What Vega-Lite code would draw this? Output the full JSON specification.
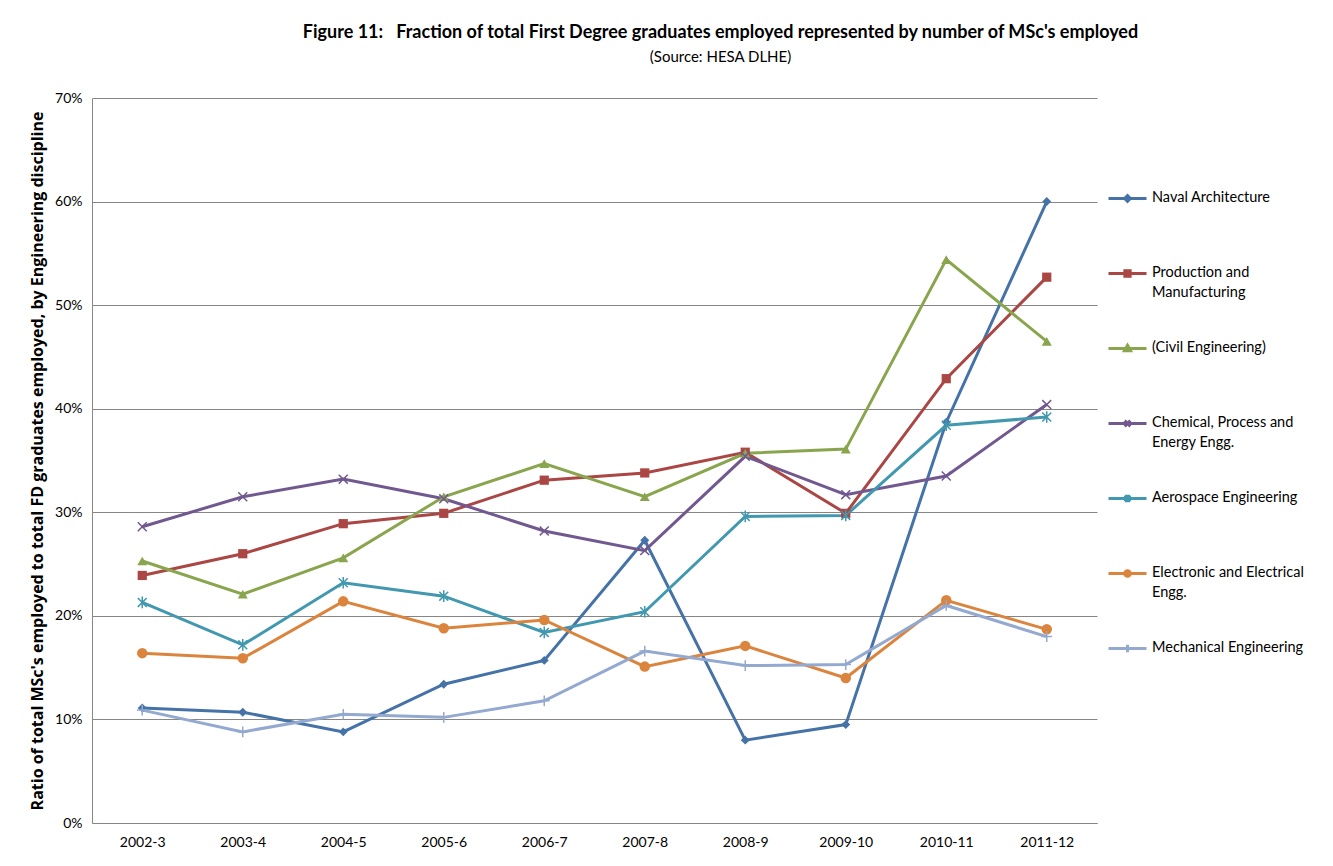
{
  "$schema": "https://vega.github.io/schema/vega-lite/v6.json",
  "width": 1005,
  "height": 725,
  "autosize": "none",
  "padding": {"left": 92, "top": 98, "right": 236, "bottom": 43},
  "background": "white",
  "config": {
    "view": {"stroke": null},
    "font": "Lato"
  },
  "title": {
    "text": "Figure 11:\u00a0\u00a0\u00a0Fraction of total First Degree graduates employed represented by number of MSc's employed",
    "subtitle": "(Source: HESA DLHE)",
    "anchor": "middle",
    "frame": "group",
    "dx": 126,
    "offset": 26,
    "font": "Lato",
    "fontSize": 18,
    "fontWeight": "bold",
    "color": "#000000",
    "subtitleFont": "Lato",
    "subtitleFontSize": 15,
    "subtitleColor": "#000000",
    "subtitlePadding": 8
  },
  "data": {
    "values": [
      {"year": "2002-3", "discipline": "Naval Architecture", "value": 0.111},
      {"year": "2003-4", "discipline": "Naval Architecture", "value": 0.107},
      {"year": "2004-5", "discipline": "Naval Architecture", "value": 0.088},
      {"year": "2005-6", "discipline": "Naval Architecture", "value": 0.134},
      {"year": "2006-7", "discipline": "Naval Architecture", "value": 0.157},
      {"year": "2007-8", "discipline": "Naval Architecture", "value": 0.273},
      {"year": "2008-9", "discipline": "Naval Architecture", "value": 0.080},
      {"year": "2009-10", "discipline": "Naval Architecture", "value": 0.095},
      {"year": "2010-11", "discipline": "Naval Architecture", "value": 0.387},
      {"year": "2011-12", "discipline": "Naval Architecture", "value": 0.600},
      {"year": "2002-3", "discipline": "Production and Manufacturing", "value": 0.239},
      {"year": "2003-4", "discipline": "Production and Manufacturing", "value": 0.260},
      {"year": "2004-5", "discipline": "Production and Manufacturing", "value": 0.289},
      {"year": "2005-6", "discipline": "Production and Manufacturing", "value": 0.299},
      {"year": "2006-7", "discipline": "Production and Manufacturing", "value": 0.331},
      {"year": "2007-8", "discipline": "Production and Manufacturing", "value": 0.338},
      {"year": "2008-9", "discipline": "Production and Manufacturing", "value": 0.358},
      {"year": "2009-10", "discipline": "Production and Manufacturing", "value": 0.299},
      {"year": "2010-11", "discipline": "Production and Manufacturing", "value": 0.429},
      {"year": "2011-12", "discipline": "Production and Manufacturing", "value": 0.527},
      {"year": "2002-3", "discipline": "(Civil Engineering)", "value": 0.253},
      {"year": "2003-4", "discipline": "(Civil Engineering)", "value": 0.221},
      {"year": "2004-5", "discipline": "(Civil Engineering)", "value": 0.256},
      {"year": "2005-6", "discipline": "(Civil Engineering)", "value": 0.315},
      {"year": "2006-7", "discipline": "(Civil Engineering)", "value": 0.347},
      {"year": "2007-8", "discipline": "(Civil Engineering)", "value": 0.315},
      {"year": "2008-9", "discipline": "(Civil Engineering)", "value": 0.357},
      {"year": "2009-10", "discipline": "(Civil Engineering)", "value": 0.361},
      {"year": "2010-11", "discipline": "(Civil Engineering)", "value": 0.544},
      {"year": "2011-12", "discipline": "(Civil Engineering)", "value": 0.465},
      {"year": "2002-3", "discipline": "Chemical, Process and Energy Engg.", "value": 0.286},
      {"year": "2003-4", "discipline": "Chemical, Process and Energy Engg.", "value": 0.315},
      {"year": "2004-5", "discipline": "Chemical, Process and Energy Engg.", "value": 0.332},
      {"year": "2005-6", "discipline": "Chemical, Process and Energy Engg.", "value": 0.313},
      {"year": "2006-7", "discipline": "Chemical, Process and Energy Engg.", "value": 0.282},
      {"year": "2007-8", "discipline": "Chemical, Process and Energy Engg.", "value": 0.263},
      {"year": "2008-9", "discipline": "Chemical, Process and Energy Engg.", "value": 0.354},
      {"year": "2009-10", "discipline": "Chemical, Process and Energy Engg.", "value": 0.317},
      {"year": "2010-11", "discipline": "Chemical, Process and Energy Engg.", "value": 0.335},
      {"year": "2011-12", "discipline": "Chemical, Process and Energy Engg.", "value": 0.404},
      {"year": "2002-3", "discipline": "Aerospace Engineering", "value": 0.213},
      {"year": "2003-4", "discipline": "Aerospace Engineering", "value": 0.172},
      {"year": "2004-5", "discipline": "Aerospace Engineering", "value": 0.232},
      {"year": "2005-6", "discipline": "Aerospace Engineering", "value": 0.219},
      {"year": "2006-7", "discipline": "Aerospace Engineering", "value": 0.184},
      {"year": "2007-8", "discipline": "Aerospace Engineering", "value": 0.204},
      {"year": "2008-9", "discipline": "Aerospace Engineering", "value": 0.296},
      {"year": "2009-10", "discipline": "Aerospace Engineering", "value": 0.297},
      {"year": "2010-11", "discipline": "Aerospace Engineering", "value": 0.384},
      {"year": "2011-12", "discipline": "Aerospace Engineering", "value": 0.392},
      {"year": "2002-3", "discipline": "Electronic and Electrical Engg.", "value": 0.164},
      {"year": "2003-4", "discipline": "Electronic and Electrical Engg.", "value": 0.159},
      {"year": "2004-5", "discipline": "Electronic and Electrical Engg.", "value": 0.214},
      {"year": "2005-6", "discipline": "Electronic and Electrical Engg.", "value": 0.188},
      {"year": "2006-7", "discipline": "Electronic and Electrical Engg.", "value": 0.196},
      {"year": "2007-8", "discipline": "Electronic and Electrical Engg.", "value": 0.151},
      {"year": "2008-9", "discipline": "Electronic and Electrical Engg.", "value": 0.171},
      {"year": "2009-10", "discipline": "Electronic and Electrical Engg.", "value": 0.140},
      {"year": "2010-11", "discipline": "Electronic and Electrical Engg.", "value": 0.215},
      {"year": "2011-12", "discipline": "Electronic and Electrical Engg.", "value": 0.187},
      {"year": "2002-3", "discipline": "Mechanical Engineering", "value": 0.109},
      {"year": "2003-4", "discipline": "Mechanical Engineering", "value": 0.088},
      {"year": "2004-5", "discipline": "Mechanical Engineering", "value": 0.105},
      {"year": "2005-6", "discipline": "Mechanical Engineering", "value": 0.102},
      {"year": "2006-7", "discipline": "Mechanical Engineering", "value": 0.118},
      {"year": "2007-8", "discipline": "Mechanical Engineering", "value": 0.166},
      {"year": "2008-9", "discipline": "Mechanical Engineering", "value": 0.152},
      {"year": "2009-10", "discipline": "Mechanical Engineering", "value": 0.153},
      {"year": "2010-11", "discipline": "Mechanical Engineering", "value": 0.210},
      {"year": "2011-12", "discipline": "Mechanical Engineering", "value": 0.180}
    ]
  },
  "encoding": {
    "x": {
      "field": "year",
      "type": "ordinal",
      "sort": null,
      "scale": {"type": "point", "padding": 0.5},
      "axis": {
        "title": null,
        "labelAngle": 0,
        "labelFont": "Lato",
        "labelFontSize": 14,
        "labelColor": "#000000",
        "labelPadding": 12,
        "ticks": false,
        "domainColor": "#868686",
        "grid": false
      }
    },
    "y": {
      "field": "value",
      "type": "quantitative",
      "scale": {"domain": [0, 0.7], "nice": false},
      "axis": {
        "title": "Ratio of total MSc's employed to total FD graduates employed, by Engineering discipline",
        "titleFont": "Open Sans",
        "titleFontSize": 16,
        "titleFontWeight": "bold",
        "titleColor": "#000000",
        "titlePadding": 9,
        "values": [0, 0.1, 0.2, 0.3, 0.4, 0.5, 0.6, 0.7],
        "format": ".0%",
        "labelFont": "Lato",
        "labelFontSize": 14,
        "labelColor": "#000000",
        "labelPadding": 10,
        "ticks": false,
        "domainColor": "#868686",
        "gridColor": "#868686",
        "gridWidth": 1
      }
    },
    "color": {
      "field": "discipline",
      "type": "nominal",
      "sort": null,
      "scale": {
        "domain": ["Naval Architecture", "Production and Manufacturing", "(Civil Engineering)", "Chemical, Process and Energy Engg.", "Aerospace Engineering", "Electronic and Electrical Engg.", "Mechanical Engineering"],
        "range": ["#4572A7", "#AA4643", "#89A54E", "#71588F", "#4198AF", "#DB843D", "#93A9CF"]
      },
      "legend": {
        "title": null,
        "orient": "none",
        "legendX": 1015,
        "legendY": 80,
        "symbolSize": 1444,
        "rowPadding": 29,
        "labelFont": "Lato",
        "labelFontSize": 14.5,
        "labelColor": "#000000",
        "labelOffset": 4,
        "labelLimit": 220,
        "labelBaseline": "top",
        "labelExpr": "datum.label == 'Production and Manufacturing' ? ['Production and', 'Manufacturing'] : datum.label == 'Chemical, Process and Energy Engg.' ? ['Chemical, Process and', 'Energy Engg.'] : datum.label == 'Electronic and Electrical Engg.' ? ['Electronic and Electrical', 'Engg.'] : [datum.label, '']",
        "encode": {
          "labels": {"update": {"dy": {"value": -8}, "lineHeight": {"value": 20}}},
          "symbols": {
            "update": {
              "shape": {"signal": "datum.value == 'Naval Architecture' ? 'M-1,0H1M0,-0.15L0.15,0L0,0.15L-0.15,0Z' : datum.value == 'Production and Manufacturing' ? 'M-1,0H1M-0.14,-0.14H0.14V0.14H-0.14Z' : datum.value == '(Civil Engineering)' ? 'M-1,0H1M0,-0.17L0.16,0.12H-0.16Z' : datum.value == 'Chemical, Process and Energy Engg.' ? 'M-1,0H1M-0.15,-0.15L0.15,0.15M-0.15,0.15L0.15,-0.15' : datum.value == 'Aerospace Engineering' ? 'M-1,0H1M-0.15,-0.15L0.15,0.15M-0.15,0.15L0.15,-0.15M0,-0.2V0.2' : datum.value == 'Electronic and Electrical Engg.' ? 'M-1,0H1M-0.15,0A0.15,0.15,0,1,0,0.15,0A0.15,0.15,0,1,0,-0.15,0Z' : 'M-1,0H1M0,-0.2V0.2'"},
              "size": {"value": 1444},
              "fill": {"signal": "scale('color', datum.value)"},
              "stroke": {"signal": "scale('color', datum.value)"},
              "strokeWidth": {"value": 3},
              "opacity": {"value": 1},
              "fillOpacity": {"value": 1},
              "strokeOpacity": {"value": 1}
            }
          }
        }
      }
    }
  },
  "layer": [
    {"mark": {"type": "line", "strokeWidth": 3}},
    {
      "transform": [{"filter": "datum.discipline == 'Naval Architecture'"}],
      "mark": {"type": "point", "shape": "diamond", "size": 80, "filled": true, "opacity": 1}
    },
    {
      "transform": [{"filter": "datum.discipline == 'Production and Manufacturing'"}],
      "mark": {"type": "point", "shape": "square", "size": 85, "filled": true, "opacity": 1}
    },
    {
      "transform": [{"filter": "datum.discipline == '(Civil Engineering)'"}],
      "mark": {"type": "point", "shape": "triangle-up", "size": 100, "filled": true, "opacity": 1}
    },
    {
      "transform": [{"filter": "datum.discipline == 'Chemical, Process and Energy Engg.'"}],
      "mark": {"type": "point", "shape": "M-1,-1L1,1M-1,1L1,-1", "size": 80, "filled": false, "strokeWidth": 1.5, "opacity": 1}
    },
    {
      "transform": [{"filter": "datum.discipline == 'Aerospace Engineering'"}],
      "mark": {"type": "point", "shape": "M-1,-1L1,1M-1,1L1,-1M0,-1.3V1.3", "size": 80, "filled": false, "strokeWidth": 1.5, "opacity": 1}
    },
    {
      "transform": [{"filter": "datum.discipline == 'Electronic and Electrical Engg.'"}],
      "mark": {"type": "point", "shape": "circle", "size": 110, "filled": true, "opacity": 1}
    },
    {
      "transform": [{"filter": "datum.discipline == 'Mechanical Engineering'"}],
      "mark": {"type": "point", "shape": "M-1.2,0H1.2M0,-1.2V1.2", "size": 80, "filled": false, "strokeWidth": 1.5, "opacity": 1}
    }
  ]
}
